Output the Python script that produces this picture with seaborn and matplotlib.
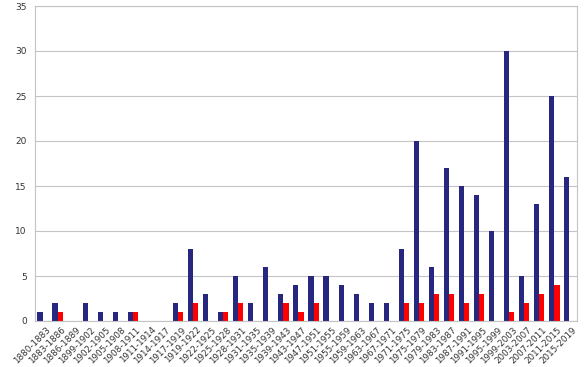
import numpy as np
import pandas as pd
import matplotlib
matplotlib.use('Agg')
import matplotlib.pyplot as plt
from matplotlib.transforms import ScaledTranslation
import seaborn as sns

# Periodos (eje x)
periods = ['1880-1883', '1883-1886', '1886-1889', '1899-1902', '1902-1905', '1905-1908',
           '1908-1911', '1911-1914', '1914-1917', '1917-1919', '1919-1922', '1922-1925',
           '1925-1928', '1928-1931', '1931-1935', '1935-1939', '1939-1943', '1943-1947',
           '1947-1951', '1951-1955', '1955-1959', '1959-1963', '1963-1967', '1967-1971',
           '1971-1975', '1975-1979', '1979-1983', '1983-1987', '1987-1991', '1991-1995',
           '1995-1999', '1999-2003', '2003-2007', '2007-2011', '2011-2015', '2015-2019']

# Serie azul y serie roja
blue_vals = [1, 2, 0, 2, 1, 1, 1, 0, 0, 2, 8, 3, 1, 5, 2, 6, 3, 4, 5, 5, 4, 3, 2, 2,
             8, 20, 6, 17, 15, 14, 10, 30, 5, 13, 25, 16]
red_vals = [0, 1, 0, 0, 0, 0, 1, 0, 0, 1, 2, 0, 1, 2, 0, 0, 2, 1, 2, 0, 0, 0, 0, 0,
            2, 2, 3, 3, 2, 3, 0, 1, 2, 3, 4, 0]

series_names = ['A', 'B']
colors = ['#27277f', '#ff0000']

df = pd.DataFrame({
    'periodo': periods * 2,
    'valor': blue_vals + red_vals,
    'serie': [series_names[0]] * len(periods) + [series_names[1]] * len(periods),
})

sns.set_style('white')
plt.rcParams['font.family'] = ['DejaVu Sans']

fig = plt.figure(figsize=(5.86, 3.67), dpi=100)
ax = fig.add_axes([35 / 586, 46 / 367, 542 / 586, 315 / 367])

sns.barplot(data=df, x='periodo', y='valor', hue='serie', order=periods,
            palette=colors, width=0.68, gap=0, saturation=1, legend=False,
            linewidth=0, ax=ax)

grid_col = '#c4c4c4'
ax.set_xlim(-0.5, len(periods) - 0.5)
ax.set_ylim(0, 35)
ax.set_yticks(np.arange(0, 36, 5))
ax.yaxis.grid(True, color=grid_col, linewidth=0.8)
ax.set_axisbelow(True)
for s in ax.spines.values():
    s.set_color(grid_col)
    s.set_linewidth(0.8)

ax.set_xlabel('')
ax.set_ylabel('')
ax.tick_params(axis='y', length=4, color=grid_col, labelsize=6.5, labelcolor='#333333', pad=2)

# etiquetas del eje x rotadas, marcas en los limites de cada categoria
ax.set_xticks(range(len(periods)))
ax.set_xticklabels(periods, rotation=45, ha='right', rotation_mode='anchor',
                   fontsize=6.3, color='#333333')
ax.tick_params(axis='x', which='major', length=0, pad=3)
ax.set_xticks(np.arange(-0.5, len(periods), 1), minor=True)
ax.tick_params(axis='x', which='minor', length=4, color=grid_col)

for lbl in ax.get_xticklabels():
    lbl.set_transform(lbl.get_transform() + ScaledTranslation(0.03, 0, fig.dpi_scale_trans))

fig.savefig('out.png', dpi=100)
